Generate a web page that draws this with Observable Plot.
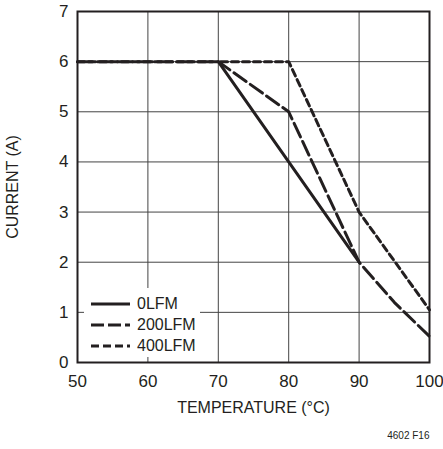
<!DOCTYPE html>
<html><head><meta charset="utf-8">
<script src="https://cdn.jsdelivr.net/npm/d3@7"></script>
<script src="https://cdn.jsdelivr.net/npm/@observablehq/plot@0.6"></script>
<style>
body{margin:0;background:#fff;}
#wrap{position:relative;width:443px;height:449px;font-family:"Liberation Sans",Arial,sans-serif;color:#231f20;}
#legend{position:absolute;left:84px;top:288px;width:116px;height:69px;background:#fff;}
#legend .row{position:absolute;left:0;height:20px;display:flex;align-items:center;}
#legend .row span{font-size:16px;margin-left:7px;line-height:20px;}
</style></head><body><div id="wrap"></div>
<script>
const temp0 = [70, 80, 90];
const cur0 = [6, 4, 2];
const temp200 = [50, 70, 80, 90, 95, 100];
const cur200 = [6, 6, 5, 2, 1.2, 0.52];
const temp400 = [50, 80, 90, 100];
const cur400 = [6, 6, 3, 1.05];
const xTicks = [50, 60, 70, 80, 90, 100];
const yTicks = [0, 1, 2, 3, 4, 5, 6, 7];
const seriesNames = ["0LFM", "200LFM", "400LFM"];
const dashes = [null, "15,5", "7,4"];

const d0 = temp0.map((t, i) => ({t, c: cur0[i]}));
const d200 = temp200.map((t, i) => ({t, c: cur200[i]}));
const d400 = temp400.map((t, i) => ({t, c: cur400[i]}));

const ink = "#231f20";
const chart = Plot.plot({
  width: 443, height: 449,
  marginLeft: 77, marginRight: 14, marginTop: 11, marginBottom: 87,
  style: {fontFamily: '"Liberation Sans",Arial,sans-serif', fontSize: "16px", color: ink, background: "white", overflow: "visible"},
  x: {domain: [50, 100]},
  y: {domain: [0, 7]},
  marks: [
    Plot.gridX(xTicks, {stroke: "#444", strokeOpacity: 1, strokeWidth: 1}),
    Plot.gridY(yTicks, {stroke: "#444", strokeOpacity: 1, strokeWidth: 1}),
    Plot.line(d400, {x: "t", y: "c", stroke: ink, strokeWidth: 3, strokeDasharray: dashes[2]}),
    Plot.line(d200, {x: "t", y: "c", stroke: ink, strokeWidth: 3, strokeDasharray: dashes[1]}),
    Plot.line(d0, {x: "t", y: "c", stroke: ink, strokeWidth: 3}),
    Plot.frame({stroke: ink, strokeWidth: 2}),
    Plot.axisX(xTicks, {tickSize: 0, tickPadding: 12, fontSize: 17, tickFormat: d => String(d), label: null}),
    Plot.axisX({tickSize: 0, ticks: [], label: "TEMPERATURE (°C)", labelAnchor: "center", labelArrow: "none", labelOffset: 50}),
    Plot.axisY(yTicks, {tickSize: 0, tickPadding: 9, fontSize: 17, tickFormat: d => String(d), label: null}),
    Plot.axisY({tickSize: 0, ticks: [], label: "CURRENT (A)", labelAnchor: "center", labelArrow: "none", labelOffset: 71}),
    Plot.text(["4602 F16"], {frameAnchor: "bottom-right", text: d => d, dy: 76, fontSize: 10, textAnchor: "end"})
  ]
});
const wrap = document.getElementById("wrap");
wrap.appendChild(chart);

const legend = document.createElement("div");
legend.id = "legend";
const rowsY = [5, 26, 47];
seriesNames.forEach((name, i) => {
  const row = document.createElement("div");
  row.className = "row";
  row.style.top = (rowsY[i] + 1) + "px";
  row.style.left = "7px";
  const svg = d3.create("svg").attr("width", 39).attr("height", 20);
  const ln = svg.append("line").attr("x1", 0).attr("x2", 39).attr("y1", 10).attr("y2", 10)
    .attr("stroke", ink).attr("stroke-width", 3);
  if (dashes[i]) ln.attr("stroke-dasharray", i === 1 ? "13,4" : "8,4");
  row.appendChild(svg.node());
  const s = document.createElement("span");
  s.textContent = name;
  row.appendChild(s);
  legend.appendChild(row);
});
wrap.appendChild(legend);
</script></body></html>
